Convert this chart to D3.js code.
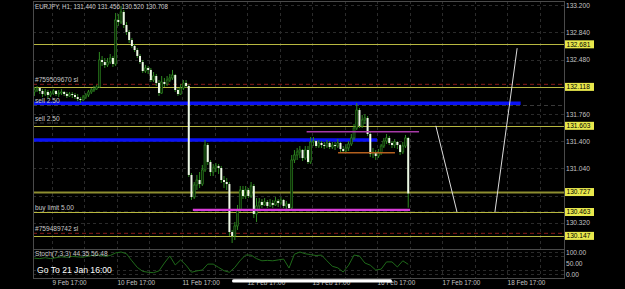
<!DOCTYPE html>
<html>
<head>
<meta charset="utf-8">
<script src="https://cdn.jsdelivr.net/npm/d3@7"></script>
<style>
  body { margin: 0; background: #000; overflow: hidden; }
  svg { display: block; }
  text { font-family: "Liberation Sans", Arial, sans-serif; }
</style>
</head>
<body>
<div id="chart"></div>
<script>
// EURJPY H1 candles (prices)
var symbolInfo = "EURJPY, H1, 131.440 131.456 130.520 130.708";
var firstOpen = 132.051;
var closes = [
  132.077, 132.103, 132.064, 132.024, 132.051, 132.011, 132.037, 132.064, 132.024, 132.037,
  132.051, 132.024, 131.998, 132.024, 132.011, 131.984, 131.958, 131.945, 131.984, 132.011,
  132.051, 132.077, 132.090, 132.117, 132.474, 132.447, 132.408, 132.447, 132.500, 132.421,
  133.003, 132.976, 133.109, 132.937, 132.844, 132.738, 132.659, 132.606, 132.527, 132.447,
  132.328, 132.368, 132.342, 132.209, 132.262, 132.170, 132.037, 132.183, 132.156, 132.209,
  132.236, 132.275, 132.077, 132.024, 132.103, 132.170, 132.130, 130.953, 130.661, 130.820,
  130.886, 130.833, 131.019, 131.349, 131.125, 130.992, 131.045, 131.072, 131.045, 130.886,
  130.860, 130.833, 130.198, 130.146, 130.278, 130.490, 130.754, 130.675, 130.754, 130.675,
  130.807, 130.437, 130.543, 130.595, 130.556, 130.595, 130.543, 130.582, 130.556, 130.609,
  130.582, 130.622, 130.543, 130.569, 130.516, 131.151, 131.217, 131.257, 131.283, 131.177,
  131.283, 131.125, 131.389, 131.402, 131.336, 131.376, 131.349, 131.336, 131.376, 131.323,
  131.349, 131.336, 131.376, 131.296, 131.270, 131.310, 131.363, 131.442, 131.574, 131.812,
  131.601, 131.680, 131.707, 131.495, 131.230, 131.257, 131.204, 131.244, 131.336, 131.402,
  131.442, 131.376, 131.349, 131.389, 131.349, 131.257, 131.336, 131.442, 130.708
];
var highs = [
  132.117, 132.130, 132.103, 132.090, 132.090, 132.077, 132.064, 132.090, 132.077, 132.077,
  132.090, 132.064, 132.051, 132.051, 132.051, 132.037, 132.024, 131.984, 132.011, 132.037,
  132.077, 132.103, 132.130, 132.143, 132.580, 132.527, 132.500, 132.500, 132.553, 132.527,
  133.096, 133.082, 133.188, 133.135, 132.976, 132.871, 132.765, 132.685, 132.632, 132.553,
  132.474, 132.408, 132.394, 132.368, 132.315, 132.289, 132.209, 132.262, 132.236, 132.262,
  132.289, 132.342, 132.289, 132.103, 132.156, 132.209, 132.209, 132.156, 130.979, 130.860,
  130.953, 130.992, 131.085, 131.416, 131.376, 131.151, 131.098, 131.111, 131.098, 131.072,
  130.939, 130.913, 130.860, 130.225, 130.331, 130.556, 130.807, 130.807, 130.807, 130.780,
  130.860, 130.833, 130.648, 130.648, 130.635, 130.648, 130.622, 130.635, 130.622, 130.661,
  130.635, 130.661, 130.635, 130.609, 130.582, 131.217, 131.283, 131.310, 131.336, 131.296,
  131.336, 131.336, 131.455, 131.455, 131.416, 131.416, 131.402, 131.389, 131.416, 131.402,
  131.389, 131.389, 131.429, 131.389, 131.336, 131.363, 131.402, 131.495, 131.627, 131.905,
  131.839, 131.746, 131.759, 131.733, 131.521, 131.310, 131.283, 131.296, 131.363, 131.442,
  131.495, 131.468, 131.402, 131.429, 131.402, 131.363, 131.389, 131.482, 131.456
];
var lows = [
  131.998, 132.051, 132.024, 131.984, 131.998, 131.971, 131.984, 132.011, 131.998, 131.984,
  132.011, 131.998, 131.971, 131.984, 131.971, 131.958, 131.931, 131.905, 131.931, 131.958,
  131.984, 132.024, 132.051, 132.077, 132.103, 132.394, 132.368, 132.381, 132.421, 132.381,
  132.394, 132.924, 132.950, 132.897, 132.805, 132.699, 132.632, 132.580, 132.500, 132.421,
  132.302, 132.302, 132.289, 132.183, 132.183, 132.130, 131.998, 132.024, 132.117, 132.130,
  132.183, 132.209, 132.051, 131.998, 132.011, 132.077, 132.103, 130.926, 130.622, 130.635,
  130.754, 130.780, 130.807, 130.992, 131.085, 130.939, 130.939, 130.992, 130.966, 130.847,
  130.780, 130.754, 130.146, 130.053, 130.093, 130.225, 130.463, 130.635, 130.635, 130.648,
  130.648, 130.384, 130.331, 130.490, 130.516, 130.543, 130.516, 130.529, 130.516, 130.543,
  130.529, 130.556, 130.516, 130.503, 130.490, 130.490, 131.111, 131.151, 131.177, 131.138,
  131.151, 131.098, 131.098, 131.336, 131.310, 131.310, 131.310, 131.296, 131.310, 131.296,
  131.296, 131.283, 131.310, 131.257, 131.244, 131.244, 131.270, 131.336, 131.416, 131.548,
  131.574, 131.574, 131.627, 131.468, 131.191, 131.177, 131.151, 131.177, 131.217, 131.310,
  131.363, 131.349, 131.310, 131.310, 131.296, 131.217, 131.230, 131.310, 130.520
];

// stochastic main line, one value every second bar
var stochValues = [
  72, 70, 74, 70, 74, 78, 76, 80, 78, 76, 82, 84, 86, 80, 84, 96, 100, 92, 60, 30,
  12, 8, 6, 14, 50, 82, 41, 64, 40, 8, 14, 18, 45, 45, 30, 15, 8, 30, 62, 86,
  86, 70, 60, 62, 60, 64, 68, 27, 90, 100, 92, 88, 84, 86, 60, 35, 28, 9, 40, 86,
  82, 50, 40, 18, 22, 55, 55, 32, 60, 44
];

var priceTicks = [133.2, 132.84, 132.48, 131.76, 131.4, 131.04, 130.32];
var gridPrices = [133.2, 132.84, 132.48, 132.12, 131.76, 131.4, 131.04, 130.68, 130.32];
var timeTicks = [7, 31, 55, 79, 103, 127, 151, 175];
var timeLabels = ["9 Feb 17:00", "10 Feb 17:00", "11 Feb 17:00", "12 Feb 17:00",
                  "13 Feb 17:00", "16 Feb 17:00", "17 Feb 17:00", "18 Feb 17:00"];
var stochTicks = [100, 50, 0];

// horizontal levels with yellow price tags
var levels = [132.681, 132.118, 131.603, 130.727, 130.463, 130.147];
// order lines: [label, price, kind]
var orders = [
  ["#759509670 sl", 132.152, "sl"],
  ["sell 2.50", 131.872, "order"],
  ["sell 2.50", 131.640, "order"],
  ["buy limit 5.00", 130.463, "order"],
  ["#759489742 sl", 130.181, "sl"]
];
// drawn objects: [startBar, endBar, price]
var blueLines = [[-10, 180, 131.901], [-10, 127, 131.416]];
var magentaLines = [[101, 142.5, 131.525], [59, 139.2, 130.490]];
var orangeLines = [[112.6, 133.6, 131.247]];
// white trend lines: [bar1, price1, bar2, price2]
var trendLines = [[148.7, 131.603, 156.5, 130.463], [170.5, 130.463, 178.7, 132.63]];

var svgWidth = 625;
var svgHeight = 289;
var plot = { left: 33, right: 564, top: 1, mainBottom: 249, stochTop: 250, bottom: 278 };

var svg = d3.select("#chart")
  .append("svg")
  .attr("width", svgWidth)
  .attr("height", svgHeight)
  .style("background", "#000");

var x = d3.scaleLinear().domain([0, 196]).range([plot.left, plot.right]);
var y = d3.scaleLinear().domain([133.2, 130.0]).range([5.1, 247]);
var ys = d3.scaleLinear().domain([0, 100]).range([274, 252]);

svg.append("clipPath").attr("id", "mainClip")
  .append("rect")
  .attr("x", plot.left).attr("y", plot.top)
  .attr("width", plot.right - plot.left).attr("height", plot.mainBottom - plot.top);

// grid
var grid = svg.append("g").attr("stroke", "#2b2b2b").attr("stroke-dasharray", "3,3")
  .attr("shape-rendering", "crispEdges");
grid.selectAll(".hg").data(gridPrices).enter().append("line")
  .attr("x1", plot.left).attr("x2", plot.right)
  .attr("y1", d => Math.round(y(d)) + 0.5).attr("y2", d => Math.round(y(d)) + 0.5);
grid.selectAll(".vg").data(d3.range(7, 196, 12)).enter().append("line")
  .attr("x1", d => Math.round(x(d)) + 0.5).attr("x2", d => Math.round(x(d)) + 0.5)
  .attr("y1", plot.top).attr("y2", plot.bottom);
grid.selectAll(".sg").data([100, 80, 20, 0]).enter().append("line")
  .attr("x1", plot.left).attr("x2", plot.right)
  .attr("y1", d => Math.round(ys(d)) + 0.5).attr("y2", d => Math.round(ys(d)) + 0.5);

var main = svg.append("g").attr("clip-path", "url(#mainClip)");

// order lines
main.selectAll(".ord").data(orders).enter().append("line")
  .attr("x1", plot.left).attr("x2", plot.right)
  .attr("y1", d => y(d[1])).attr("y2", d => y(d[1]))
  .attr("stroke", d => d[2] === "sl" ? "#8a1c1c" : "#3a3a3a")
  .attr("stroke-dasharray", "4,3");

// yellow levels
main.selectAll(".lvl").data(levels).enter().append("line")
  .attr("x1", plot.left).attr("x2", plot.right)
  .attr("y1", d => Math.round(y(d)) + 0.5).attr("y2", d => Math.round(y(d)) + 0.5)
  .attr("stroke", d => d === 130.727 ? "#8e8e30" : "#b8b840")
  .attr("stroke-width", d => d === 130.727 ? 2 : 1);

// blue lines
main.selectAll(".blue").data(blueLines).enter().append("line")
  .attr("x1", d => x(d[0])).attr("x2", d => x(d[1]))
  .attr("y1", d => y(d[2])).attr("y2", d => y(d[2]))
  .attr("stroke", "#0a12f5").attr("stroke-width", 3.5);

// candles
var candles = closes.map(function(c, i) {
  return { i: i, o: i === 0 ? firstOpen : closes[i - 1], h: highs[i], l: lows[i], c: c };
});
var candleG = main.append("g");
candleG.selectAll(".wick").data(candles).enter().append("line")
  .attr("x1", d => x(d.i + 0.5)).attr("x2", d => x(d.i + 0.5))
  .attr("y1", d => y(d.h)).attr("y2", d => y(d.l))
  .attr("stroke", "#2f8a22").attr("stroke-width", 1);
candleG.selectAll(".body").data(candles).enter().append("rect")
  .attr("x", d => x(d.i + 0.5) - 1)
  .attr("width", 2)
  .attr("y", d => y(Math.max(d.o, d.c)))
  .attr("height", d => Math.max(1, Math.abs(y(d.o) - y(d.c))))
  .attr("fill", d => d.c < d.o ? "#eef8e6" : "#0b2406")
  .attr("stroke", d => d.c < d.o ? "none" : "#2f8a22")
  .attr("stroke-width", 0.6);

// magenta & orange objects
main.selectAll(".mag").data(magentaLines).enter().append("line")
  .attr("x1", d => x(d[0])).attr("x2", d => x(d[1]))
  .attr("y1", d => y(d[2])).attr("y2", d => y(d[2]))
  .attr("stroke", (d, i) => i === 0 ? "#a83aa8" : "#d83cd8")
  .attr("stroke-width", (d, i) => i === 0 ? 1.5 : 2.2);
main.selectAll(".orn").data(orangeLines).enter().append("line")
  .attr("x1", d => x(d[0])).attr("x2", d => x(d[1]))
  .attr("y1", d => y(d[2])).attr("y2", d => y(d[2]))
  .attr("stroke", "#b4601e").attr("stroke-width", 1.5);

// white trend lines
main.selectAll(".trend").data(trendLines).enter().append("line")
  .attr("x1", d => x(d[0])).attr("y1", d => y(d[1]))
  .attr("x2", d => x(d[2])).attr("y2", d => y(d[3]))
  .attr("stroke", "#dcdcdc").attr("stroke-width", 1);

// order labels
svg.selectAll(".ordText").data(orders).enter().append("text")
  .attr("x", 35).attr("y", d => y(d[1]) - 2)
  .attr("fill", "#c8c8c8").attr("font-size", 6.6)
  .text(d => d[0]);

// symbol header
svg.append("text")
  .attr("x", 35).attr("y", 8.5)
  .attr("fill", "#cfcfcf").attr("font-size", 6.6)
  .attr("textLength", 133).attr("lengthAdjust", "spacingAndGlyphs")
  .text(symbolInfo);

// stochastic
var stochLine = d3.line()
  .x((d, i) => x(i * 2 + 0.5))
  .y(d => ys(d));
svg.append("path")
  .datum(stochValues)
  .attr("d", stochLine)
  .attr("fill", "none")
  .attr("stroke", "#1f6a1a")
  .attr("stroke-width", 1);

svg.append("text")
  .attr("x", 35).attr("y", 256)
  .attr("fill", "#c8c8c8").attr("font-size", 6.6)
  .text("Stoch(7,3,3) 44.35 56.48");

// frame
var frame = svg.append("g").attr("fill", "none").attr("stroke", "#4a4a4a")
  .attr("shape-rendering", "crispEdges");
frame.append("rect")
  .attr("x", plot.left + 0.5).attr("y", plot.top + 0.5)
  .attr("width", plot.right - plot.left).attr("height", plot.bottom - plot.top);
frame.append("line")
  .attr("x1", plot.left).attr("x2", plot.right)
  .attr("y1", plot.mainBottom + 0.5).attr("y2", plot.mainBottom + 0.5);

// price axis
var priceAxis = d3.axisRight(y).tickValues(priceTicks)
  .tickFormat(d3.format(".3f")).tickSize(0).tickPadding(2);
var pa = svg.append("g").attr("transform", `translate(${plot.right}, 0)`).call(priceAxis);
pa.select(".domain").remove();
pa.selectAll("text").attr("fill", "#c4c4c4").attr("font-size", 6.6)
  .attr("font-family", "Liberation Sans, Arial, sans-serif");

// yellow price tags
var tags = svg.selectAll(".tag").data(levels).enter().append("g")
  .attr("transform", d => `translate(${plot.right + 1}, ${y(d)})`);
tags.append("rect")
  .attr("x", 0).attr("y", -4).attr("width", 29).attr("height", 8)
  .attr("fill", "#e8e84c");
tags.append("text")
  .attr("x", 1.5).attr("y", 2.4)
  .attr("fill", "#000").attr("font-size", 6.6)
  .text(d => d3.format(".3f")(d));

// stoch axis
var stochAxis = d3.axisRight(ys).tickValues(stochTicks)
  .tickFormat(d3.format(".2f")).tickSize(0).tickPadding(2);
var sa = svg.append("g").attr("transform", `translate(${plot.right}, 0)`).call(stochAxis);
sa.select(".domain").remove();
sa.selectAll("text").attr("fill", "#c4c4c4").attr("font-size", 6.6)
  .attr("font-family", "Liberation Sans, Arial, sans-serif");

// time axis
var timeAxis = d3.axisBottom(x).tickValues(timeTicks)
  .tickFormat((d, i) => timeLabels[i]).tickSize(0).tickPadding(2);
var ta = svg.append("g").attr("transform", `translate(0, ${plot.bottom})`).call(timeAxis);
ta.select(".domain").remove();
ta.selectAll("text").attr("fill", "#c4c4c4").attr("font-size", 6.4)
  .attr("text-anchor", "start").attr("dy", 0).attr("y", 7.2)
  .attr("font-family", "Liberation Sans, Arial, sans-serif");

// "Go To" overlay and scroll bar
svg.append("text")
  .attr("x", 37).attr("y", 273)
  .attr("fill", "#ffffff").attr("font-size", 8.6)
  .text("Go To 21 Jan 16:00");
svg.append("rect")
  .attr("x", 232).attr("y", 279.3).attr("width", 160).attr("height", 3.2)
  .attr("rx", 1.6).attr("fill", "#ffffff");
</script>
</body>
</html>
